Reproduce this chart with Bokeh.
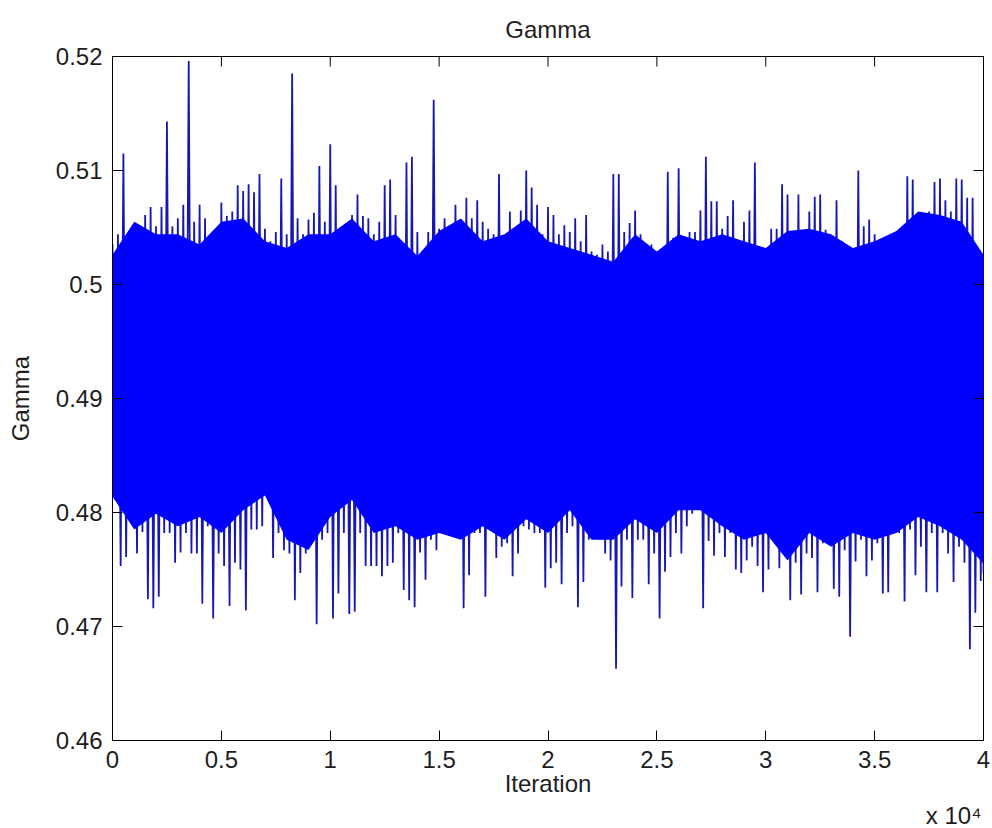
import math
from bokeh.plotting import figure
from bokeh.models import Range1d, FixedTicker, Title
from bokeh.embed import file_html
from bokeh.resources import INLINE

# ---- data (Gamma MCMC trace, 40000 iterations) ----
# solid body of the trace, sampled every 1000 iterations
body_iter = list(range(0, 40001, 1000))
body_top = [0.5026, 0.5055, 0.5044, 0.5044, 0.5035, 0.5055, 0.5058, 0.5038, 0.5032, 0.5044,
            0.5044, 0.5058, 0.5038, 0.5044, 0.5025, 0.5047, 0.5058, 0.5038, 0.5044, 0.5058,
            0.5038, 0.5032, 0.5026, 0.5020, 0.5044, 0.5029, 0.5044, 0.5038, 0.5044, 0.5038,
            0.5032, 0.5047, 0.5049, 0.5044, 0.5032, 0.5038, 0.5047, 0.5064, 0.5061, 0.5055,
            0.5026]
body_bot = [0.4814, 0.4785, 0.4799, 0.4788, 0.4796, 0.4782, 0.4802, 0.4815, 0.4776, 0.4767,
            0.4796, 0.4811, 0.4782, 0.4788, 0.4776, 0.4782, 0.4776, 0.4788, 0.4776, 0.4794,
            0.4782, 0.4802, 0.4776, 0.4776, 0.4794, 0.4782, 0.4802, 0.4802, 0.4788, 0.4776,
            0.4782, 0.4758, 0.4782, 0.4770, 0.4782, 0.4776, 0.4782, 0.4796, 0.4788, 0.4776,
            0.4755]

# max / min of the trace in each block of 250 iterations
spike_iter = list(range(0, 40001, 250))
spike_hi = [0.5035, 0.5044, 0.5115, 0.5041, 0.5052, 0.5052, 0.5061, 0.5068, 0.5051, 0.5068,
            0.5143, 0.5051, 0.5058, 0.5070, 0.5196, 0.5055, 0.5070, 0.5058, 0.5032, 0.5049,
            0.5072, 0.5060, 0.5064, 0.5087, 0.5082, 0.5088, 0.5081, 0.5097, 0.5049, 0.5038,
            0.5046, 0.5093, 0.5044, 0.5185, 0.5058, 0.5044, 0.5057, 0.5063, 0.5104, 0.5055,
            0.5123, 0.5087, 0.5044, 0.5038, 0.5061, 0.5079, 0.5060, 0.5058, 0.5044, 0.5055,
            0.5087, 0.5092, 0.5061, 0.5023, 0.5107, 0.5112, 0.5046, 0.5003, 0.5046, 0.5162,
            0.5049, 0.5058, 0.5044, 0.5070, 0.5046, 0.5076, 0.5058, 0.5074, 0.5055, 0.5049,
            0.5044, 0.5097, 0.5026, 0.5064, 0.5029, 0.5065, 0.5100, 0.5085, 0.5070, 0.5044,
            0.5068, 0.5061, 0.5044, 0.5052, 0.5046, 0.5058, 0.5038, 0.5061, 0.5029, 0.5026,
            0.5035, 0.5029, 0.5097, 0.5097, 0.5046, 0.5054, 0.5065, 0.5044, 0.5035, 0.5035,
            0.5029, 0.5032, 0.5099, 0.5041, 0.5102, 0.5038, 0.5046, 0.5046, 0.5065, 0.5112,
            0.5073, 0.5073, 0.5049, 0.5060, 0.5074, 0.5026, 0.5055, 0.5065, 0.5107, 0.5029,
            0.5026, 0.5049, 0.5049, 0.5088, 0.5079, 0.5044, 0.5079, 0.5026, 0.5064, 0.5077,
            0.5079, 0.5048, 0.5042, 0.5074, 0.5038, 0.5032, 0.5019, 0.5100, 0.5051, 0.5057,
            0.5044, 0.5017, 0.5041, 0.5042, 0.5038, 0.5049, 0.5095, 0.5092, 0.5010, 0.5058,
            0.5064, 0.5090, 0.5093, 0.5074, 0.5064, 0.5093, 0.5092, 0.5076, 0.5076, 0.5026,
            0.5026]
spike_lo = [0.4811, 0.4753, 0.4761, 0.4805, 0.4764, 0.4783, 0.4724, 0.4716, 0.4726, 0.4782,
            0.4782, 0.4756, 0.4765, 0.4782, 0.4764, 0.4764, 0.4720, 0.4788, 0.4707, 0.4764,
            0.4753, 0.4718, 0.4756, 0.4750, 0.4714, 0.4785, 0.4785, 0.4788, 0.4830, 0.4760,
            0.4782, 0.4767, 0.4764, 0.4723, 0.4747, 0.4764, 0.4773, 0.4702, 0.4776, 0.4782,
            0.4707, 0.4729, 0.4782, 0.4711, 0.4713, 0.4782, 0.4753, 0.4753, 0.4753, 0.4744,
            0.4753, 0.4756, 0.4782, 0.4732, 0.4723, 0.4717, 0.4765, 0.4741, 0.4776, 0.4767,
            0.4782, 0.4782, 0.4788, 0.4805, 0.4716, 0.4745, 0.4782, 0.4782, 0.4726, 0.4788,
            0.4760, 0.4770, 0.4773, 0.4744, 0.4764, 0.4788, 0.4785, 0.4782, 0.4782, 0.4734,
            0.4751, 0.4756, 0.4737, 0.4782, 0.4788, 0.4717, 0.4739, 0.4776, 0.4785, 0.4776,
            0.4764, 0.4758, 0.4663, 0.4735, 0.4776, 0.4725, 0.4776, 0.4776, 0.4737, 0.4764,
            0.4707, 0.4748, 0.4761, 0.4782, 0.4764, 0.4788, 0.4799, 0.4808, 0.4716, 0.4775,
            0.4762, 0.4782, 0.4761, 0.4782, 0.4750, 0.4747, 0.4758, 0.4770, 0.4753, 0.4730,
            0.4750, 0.4782, 0.4751, 0.4782, 0.4723, 0.4756, 0.4728, 0.4764, 0.4760, 0.4730,
            0.4773, 0.4782, 0.4733, 0.4726, 0.4767, 0.4691, 0.4757, 0.4776, 0.4744, 0.4758,
            0.4773, 0.4729, 0.4730, 0.4782, 0.4782, 0.4722, 0.4785, 0.4745, 0.4770, 0.4730,
            0.4782, 0.4730, 0.4782, 0.4764, 0.4739, 0.4770, 0.4756, 0.4680, 0.4712, 0.4740,
            0.4747]

x_ticks = [0, 5000, 10000, 15000, 20000, 25000, 30000, 35000, 40000]
x_tick_labels = ["0", "0.5", "1", "1.5", "2", "2.5", "3", "3.5", "4"]
y_ticks = [0.46, 0.47, 0.48, 0.49, 0.50, 0.51, 0.52]
y_tick_labels = ["0.46", "0.47", "0.48", "0.49", "0.5", "0.51", "0.52"]
x_min, x_max = 0, 40000
y_min, y_max = 0.46, 0.52

FONT = "Liberation Sans"
TXT = "#1e1e1e"

# trace: alternate between block max and block min
half = (spike_iter[1] - spike_iter[0]) // 2
trace_x, trace_y = [], []
for it, h, l in zip(spike_iter, spike_hi, spike_lo):
    trace_x += [it, min(it + half, spike_iter[-1])]
    trace_y += [h, l]

p = figure(width=992, height=828, output_backend="svg", toolbar_location=None,
           x_range=Range1d(x_min, x_max), y_range=Range1d(y_min, y_max),
           min_border_left=112, min_border_right=9, min_border_top=56, min_border_bottom=87)
p.background_fill_color = "white"
p.border_fill_color = "white"
p.outline_line_color = "black"
p.outline_line_width = 1
p.xgrid.visible = False
p.ygrid.visible = False

p.line(trace_x, trace_y, line_color="#1818b0", line_width=1.8)
p.varea(x=body_iter, y1=body_bot, y2=body_top, fill_color="#0000ff", fill_alpha=1.0)

# inward tick marks on the top and right edges of the box (half of each dash is clipped)
p.scatter(x=x_ticks, y=[y_max] * len(x_ticks), marker="dash", size=20, angle=math.pi / 2,
          line_color="black", line_width=1)
p.scatter(x=[x_max] * len(y_ticks), y=y_ticks, marker="dash", size=20,
          line_color="black", line_width=1)


def style_axis(ax):
    ax.axis_line_color = "black"
    ax.major_tick_line_color = "black"
    ax.major_tick_in = 10
    ax.major_tick_out = 0
    ax.minor_tick_line_color = None
    ax.major_label_text_font = FONT
    ax.major_label_text_color = TXT
    ax.major_label_text_font_size = "24px"
    ax.major_label_standoff = 10
    ax.axis_label_text_font = FONT
    ax.axis_label_text_color = TXT
    ax.axis_label_text_font_style = "normal"
    ax.axis_label_text_font_size = "24px"


xa = p.xaxis[0]
xa.ticker = FixedTicker(ticks=x_ticks)
xa.major_label_overrides = {t: s for t, s in zip(x_ticks, x_tick_labels)}
style_axis(xa)
xa.axis_label = "Iteration"
xa.axis_label_standoff = -1

ya = p.yaxis[0]
ya.ticker = FixedTicker(ticks=y_ticks)
ya.major_label_overrides = {t: s for t, s in zip(y_ticks, y_tick_labels)}
style_axis(ya)
ya.axis_label = "Gamma"
ya.axis_label_standoff = 19

p.title.text = "Gamma"
p.title.align = "center"
p.title.text_font = FONT
p.title.text_font_size = "24px"
p.title.text_font_style = "normal"
p.title.text_color = TXT
p.title.standoff = 27

p.add_layout(Title(text="x 10\u2074", align="right", text_font=FONT, text_font_size="24px",
                   text_font_style="normal", text_color=TXT, standoff=0, offset=2), "below")

open("out.html", "w").write(file_html(p, INLINE))
